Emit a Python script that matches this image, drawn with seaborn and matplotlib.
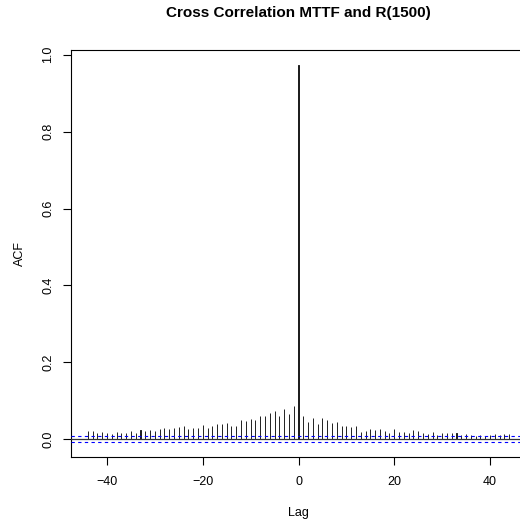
import numpy as np
import pandas as pd
import matplotlib
matplotlib.use("Agg")
import matplotlib.pyplot as plt
import seaborn as sns

# ---- data ----
lags = list(range(-44, 45))
acf_neg = [0.020, 0.020, 0.016, 0.018, 0.016, 0.014, 0.018, 0.016, 0.015, 0.020,
           0.017, 0.023, 0.021, 0.024, 0.020, 0.025, 0.028, 0.026, 0.028, 0.032,
           0.033, 0.026, 0.029, 0.029, 0.036, 0.029, 0.035, 0.039, 0.039, 0.041,
           0.035, 0.034, 0.050, 0.048, 0.051, 0.049, 0.061, 0.060, 0.068, 0.074,
           0.059, 0.078, 0.065, 0.085]
acf_zero = [0.974]
acf_pos = [0.061, 0.044, 0.055, 0.040, 0.055, 0.049, 0.042, 0.044, 0.033, 0.035,
           0.032, 0.035, 0.019, 0.022, 0.025, 0.024, 0.025, 0.022, 0.017, 0.025,
           0.018, 0.019, 0.017, 0.023, 0.022, 0.017, 0.013, 0.019, 0.010, 0.017,
           0.015, 0.016, 0.015, 0.011, 0.012, 0.010, 0.008, 0.010, 0.009, 0.010,
           0.012, 0.010, 0.013, 0.012]
acf_vals = acf_neg + acf_zero + acf_pos
clim = 0.0075
xticks = [-40, -20, 0, 20, 40]
yticks = [0.0, 0.2, 0.4, 0.6, 0.8, 1.0]
title = "Cross Correlation MTTF and R(1500)"

df = pd.DataFrame({"Lag": lags, "ACF": acf_vals})

sns.set_theme(style="white")
plt.rcParams["font.family"] = ["Liberation Sans", "DejaVu Sans"]

# axes box extends past the right edge of the figure (as in the reference)
px_per_lag = (526 - 71) / 95.04
right_px = 560
fig = plt.figure(figsize=(5.2, 5.22), dpi=100)
ax = fig.add_axes([71 / 520, (522 - 457) / 522, (right_px - 71) / 520, (457 - 49.7) / 522])

sns.barplot(data=df, x="Lag", y="ACF", native_scale=True, width=0.01,
            color="black", edgecolor="#1a1a1a", linewidth=0.68, ax=ax,
            saturation=1, errorbar=None)

ax.axhline(0, color="#333333", lw=0.9, zorder=3)
ax.axhline(clim, color="#0000FF", lw=0.8, ls=(0, (3, 3)), zorder=4)
ax.axhline(-clim, color="#0000FF", lw=0.8, ls=(0, (3, 3)), zorder=4)

ax.set_xlim(-47.52, -47.52 + (right_px - 71) / px_per_lag)
ax.set_ylim(-0.0466, 1.0133)
ax.set_xticks(xticks)
ax.set_xticklabels([("\u2212" + str(abs(t))) if t < 0 else str(t) for t in xticks])
ax.set_yticks(yticks)
ax.set_yticklabels([f"{t:.1f}" for t in yticks], rotation=90, va="center")

for s in ax.spines.values():
    s.set_color("black")
    s.set_linewidth(0.8)
    s.set_visible(True)
ax.spines["right"].set_visible(False)

ax.tick_params(axis="both", direction="out", length=5.5, width=0.8, color="black",
               labelsize=9, labelcolor="black", left=True, bottom=True)
ax.tick_params(axis="x", pad=8)
ax.tick_params(axis="y", pad=6.5)

ax.set_xlabel("Lag", fontsize=9, color="black")
ax.xaxis.set_label_coords(298.5 / 520, 1 - 513 / 522, transform=fig.transFigure)
ax.xaxis.label.set_va("center")
ax.set_ylabel("ACF", fontsize=9, color="black", labelpad=12)
fig.text(298.5 / 520, 1 - 13 / 522, title, ha="center", va="center",
         fontsize=11, fontweight="bold", color="black")

fig.savefig("out.png", dpi=100)
